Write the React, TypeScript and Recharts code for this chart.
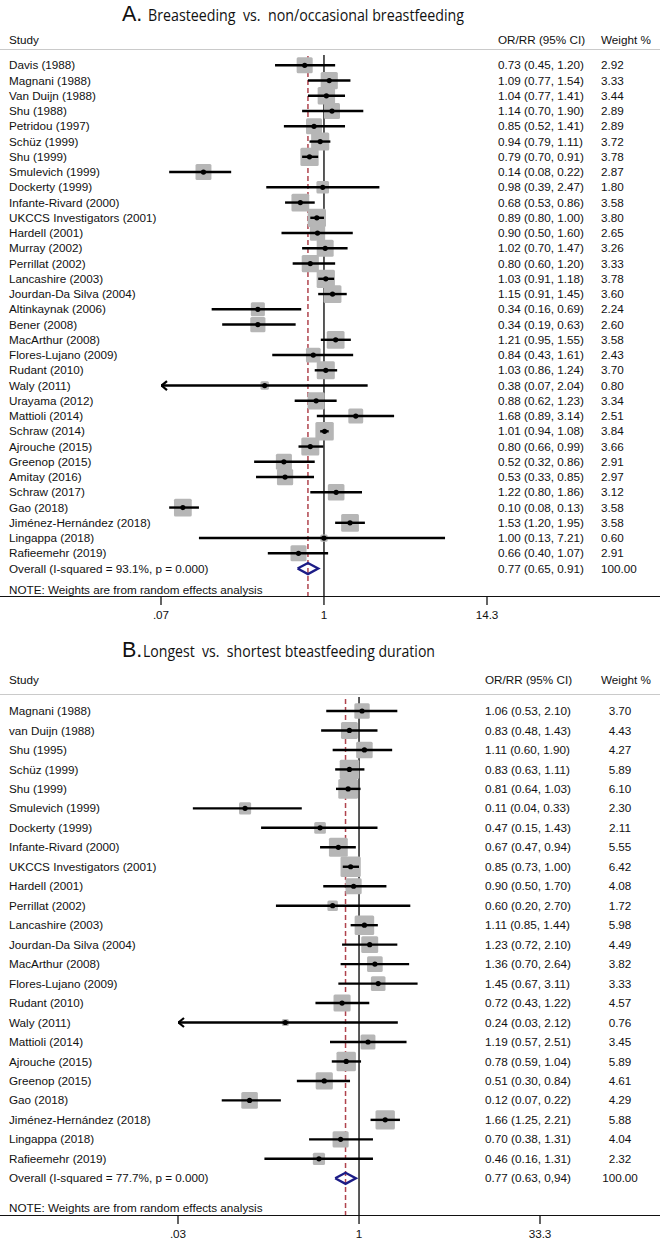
import { ComposedChart, ErrorBar, ReferenceLine, Scatter, XAxis, YAxis } from "recharts";

const FONT = '"Liberation Sans", Arial, Helvetica, sans-serif';
const TITLE_FONT = '"Open Sans", "Noto Sans", sans-serif';
const LETTER_FONT = '"Liberation Sans Narrow", "Liberation Sans", Arial, sans-serif';
const GREY = "#b6b6b6";
const NAVY = "#1c1c86";
const RED = "#b0434d";

// ---- Panel A: breastfeeding vs non/occasional breastfeeding
const studiesA = [
  "Davis (1988)", "Magnani (1988)", "Van Duijn (1988)", "Shu (1988)", "Petridou (1997)", "Schüz (1999)",
  "Shu (1999)", "Smulevich (1999)", "Dockerty (1999)", "Infante-Rivard (2000)", "UKCCS Investigators (2001)",
  "Hardell (2001)", "Murray (2002)", "Perrillat (2002)", "Lancashire (2003)", "Jourdan-Da Silva (2004)",
  "Altinkaynak (2006)", "Bener (2008)", "MacArthur (2008)", "Flores-Lujano (2009)", "Rudant (2010)",
  "Waly (2011)", "Urayama (2012)", "Mattioli (2014)", "Schraw (2014)", "Ajrouche (2015)", "Greenop (2015)",
  "Amitay (2016)", "Schraw (2017)", "Gao (2018)", "Jiménez-Hernández (2018)", "Lingappa (2018)", "Rafieemehr (2019)",
];
const orA = [0.73, 1.09, 1.04, 1.14, 0.85, 0.94, 0.79, 0.14, 0.98, 0.68, 0.89, 0.9, 1.02, 0.8, 1.03, 1.15, 0.34, 0.34, 1.21, 0.84, 1.03, 0.38, 0.88, 1.68, 1.01, 0.8, 0.52, 0.53, 1.22, 0.1, 1.53, 1.0, 0.66];
const loA = [0.45, 0.77, 0.77, 0.7, 0.52, 0.79, 0.7, 0.08, 0.39, 0.53, 0.8, 0.5, 0.7, 0.6, 0.91, 0.91, 0.16, 0.19, 0.95, 0.43, 0.86, 0.07, 0.62, 0.89, 0.94, 0.66, 0.32, 0.33, 0.8, 0.08, 1.2, 0.13, 0.4];
const hiA = [1.2, 1.54, 1.41, 1.9, 1.41, 1.11, 0.91, 0.22, 2.47, 0.86, 1.0, 1.6, 1.47, 1.2, 1.18, 1.45, 0.69, 0.63, 1.55, 1.61, 1.24, 2.04, 1.23, 3.14, 1.08, 0.99, 0.86, 0.85, 1.86, 0.13, 1.95, 7.21, 1.07];
const weightA = [2.92, 3.33, 3.44, 2.89, 2.89, 3.72, 3.78, 2.87, 1.8, 3.58, 3.8, 2.65, 3.26, 3.33, 3.78, 3.6, 2.24, 2.6, 3.58, 2.43, 3.7, 0.8, 3.34, 2.51, 3.84, 3.66, 2.91, 2.97, 3.12, 3.58, 3.58, 0.6, 2.91];
const overallA = { label: "Overall (I-squared = 93.1%, p = 0.000)", or: 0.77, lo: 0.65, hi: 0.91, ciText: "0.77 (0.65, 0.91)", weight: "100.00" };
const ticksA = [0.07, 1, 14.3];
const tickLabelsA = [".07", "1", "14.3"];

// ---- Panel B: longest vs shortest breastfeeding duration
const studiesB = [
  "Magnani (1988)", "van Duijn (1988)", "Shu (1995)", "Schüz (1999)", "Shu (1999)", "Smulevich (1999)",
  "Dockerty (1999)", "Infante-Rivard (2000)", "UKCCS Investigators (2001)", "Hardell (2001)", "Perrillat (2002)",
  "Lancashire (2003)", "Jourdan-Da Silva (2004)", "MacArthur (2008)", "Flores-Lujano (2009)", "Rudant (2010)",
  "Waly (2011)", "Mattioli (2014)", "Ajrouche (2015)", "Greenop (2015)", "Gao (2018)", "Jiménez-Hernández (2018)",
  "Lingappa (2018)", "Rafieemehr (2019)",
];
const orB = [1.06, 0.83, 1.11, 0.83, 0.81, 0.11, 0.47, 0.67, 0.85, 0.9, 0.6, 1.11, 1.23, 1.36, 1.45, 0.72, 0.24, 1.19, 0.78, 0.51, 0.12, 1.66, 0.7, 0.46];
const loB = [0.53, 0.48, 0.6, 0.63, 0.64, 0.04, 0.15, 0.47, 0.73, 0.5, 0.2, 0.85, 0.72, 0.7, 0.67, 0.43, 0.03, 0.57, 0.59, 0.3, 0.07, 1.25, 0.38, 0.16];
const hiB = [2.1, 1.43, 1.9, 1.11, 1.03, 0.33, 1.43, 0.94, 1.0, 1.7, 2.7, 1.44, 2.1, 2.64, 3.11, 1.22, 2.12, 2.51, 1.04, 0.84, 0.22, 2.21, 1.31, 1.31];
const weightB = [3.7, 4.43, 4.27, 5.89, 6.1, 2.3, 2.11, 5.55, 6.42, 4.08, 1.72, 5.98, 4.49, 3.82, 3.33, 4.57, 0.76, 3.45, 5.89, 4.61, 4.29, 5.88, 4.04, 2.32];
const overallB = { label: "Overall (I-squared = 77.7%, p = 0.000)", or: 0.77, lo: 0.63, hi: 0.94, ciText: "0.77 (0.63, 0,94)", weight: "100.00" };
const ticksB = [0.03, 1, 33.3];
const tickLabelsB = [".03", "1", "33.3"];

type Overall = { label: string; or: number; lo: number; hi: number; ciText: string; weight: string };
type PanelSpec = {
  letter: string; title: string;
  studies: string[]; or: number[]; lo: number[]; hi: number[]; weight: number[]; overall: Overall;
  ticks: number[]; tickLabels: string[];
  titleY: number; letterX: number; titleX: number; titleW: number;
  headerY: number; lineY: number; plotTop: number; plotBottom: number; row0: number; rowStep: number; noteY: number;
  xLeft: number; xRight: number; orX: number; wX: number; wAnchor: "start" | "middle"; headWX: number; squareK: number;
};

const panelA: PanelSpec = {
  letter: "A.", title: "Breasteeding  vs.  non/occasional breastfeeding",
  studies: studiesA, or: orA, lo: loA, hi: hiA, weight: weightA, overall: overallA, ticks: ticksA, tickLabels: tickLabelsA,
  titleY: 20.5, letterX: 122, titleX: 148, titleW: 316,
  headerY: 43.5, lineY: 50, plotTop: 55, plotBottom: 597, row0: 65.3, rowStep: 15.25, noteY: 590,
  xLeft: 161, xRight: 487, orX: 498, wX: 601, wAnchor: "start", headWX: 601, squareK: 9.4,
};

const panelB: PanelSpec = {
  letter: "B.", title: "Longest  vs.  shortest bteastfeeding duration",
  studies: studiesB, or: orB, lo: loB, hi: hiB, weight: weightB, overall: overallB, ticks: ticksB, tickLabels: tickLabelsB,
  titleY: 657, letterX: 122, titleX: 143, titleW: 292,
  headerY: 684, lineY: 695, plotTop: 697, plotBottom: 1216, row0: 711, rowStep: 19.47, noteY: 1208,
  xLeft: 178, xRight: 540, orX: 485, wX: 620, wAnchor: "middle", headWX: 601, squareK: 8,
};

const fmt = (v: number) => v.toFixed(2);

function Forest({ p }: { p: PanelSpec }) {
  const n = p.studies.length;
  const dMin = p.ticks[0];
  const dMax = p.ticks[p.ticks.length - 1];
  const rows = p.studies.map((s, i) => ({ x: p.or[i], y: i, w: p.weight[i], err: [p.or[i] - p.lo[i], p.hi[i] - p.or[i]] }));
  const arrows = rows.filter((r) => p.lo[r.y] <= dMin).map((r) => ({ x: dMin, y: r.y }));
  const ov = p.overall;
  const h = 5.5 / p.rowStep;
  const diamond = [
    { x: ov.lo, y: n }, { x: ov.or, y: n - h }, { x: ov.hi, y: n }, { x: ov.or, y: n + h }, { x: ov.lo, y: n },
  ];
  const yDomain = [(p.plotTop - p.row0) / p.rowStep, (p.plotBottom - p.row0) / p.rowStep];
  const noteRow = (p.noteY - p.row0) / p.rowStep;
  const yTicks = [...rows.map((r) => r.y), n, noteRow];
  const axisH = 25;

  const rowTick = (props: any) => {
    const v = props.payload.value;
    const y = props.y;
    const t = { fontFamily: FONT, fontSize: 11.7, fill: "#111" };
    if (v === noteRow) {
      return <text x={9} y={y} dy="0.35em" {...t}>NOTE: Weights are from random effects analysis</text>;
    }
    const isOv = v === n;
    const label = isOv ? ov.label : p.studies[v];
    const ci = isOv ? ov.ciText : `${fmt(p.or[v])} (${fmt(p.lo[v])}, ${fmt(p.hi[v])})`;
    const wt = isOv ? ov.weight : fmt(p.weight[v]);
    return (
      <g>
        <text x={9} y={y} dy="0.35em" {...t}>{label}</text>
        <text x={p.orX} y={y} dy="0.35em" {...t}>{ci}</text>
        <text x={p.wX} y={y} dy="0.35em" textAnchor={p.wAnchor} {...t}>{wt}</text>
      </g>
    );
  };

  const head = { fontFamily: FONT, fontSize: 11.7, fill: "#111" };
  const titleTop = Math.max(0, p.titleY - 26);

  return (
    <>
      <svg width={660} height={p.lineY - titleTop} style={{ position: "absolute", left: 0, top: titleTop, overflow: "visible" }}>
        <g transform={`translate(0, ${-titleTop})`}>
          <text x={p.letterX} y={p.titleY} fontFamily={LETTER_FONT} fontSize={21.5} fill="#111">{p.letter}</text>
          <text x={p.titleX} y={p.titleY} fontFamily={TITLE_FONT} fontSize={16.3} fill="#111" textLength={p.titleW}
            lengthAdjust="spacingAndGlyphs" style={{ whiteSpace: "pre" }}>{p.title}</text>
          <text x={9} y={p.headerY} {...head}>Study</text>
          <text x={p.orX} y={p.headerY} {...head}>OR/RR (95% CI)</text>
          <text x={p.headWX} y={p.headerY} {...head}>Weight %</text>
        </g>
      </svg>
      <div style={{ position: "absolute", left: 0, top: p.lineY - 0.75, width: 660, borderTop: "1.5px solid #cacaca" }} />
      <div style={{ position: "absolute", left: 0, top: p.plotTop }}>
        <ComposedChart width={660} height={p.plotBottom - p.plotTop + axisH}
          margin={{ top: 0, right: 660 - p.xRight, bottom: 0, left: 0 }}>
          <XAxis dataKey="x" type="number" scale="log" domain={[dMin, dMax]} allowDataOverflow ticks={p.ticks}
            tickFormatter={(v: number) => p.tickLabels[p.ticks.indexOf(v)] ?? String(v)}
            axisLine={false} tickLine={{ stroke: "#111", strokeWidth: 1.3 }} tickSize={8} tickMargin={6} height={axisH}
            tick={{ fontFamily: FONT, fontSize: 11.7, fill: "#111" }} interval={0} />
          <YAxis dataKey="y" type="number" reversed domain={yDomain} allowDataOverflow ticks={yTicks} interval={0}
            axisLine={false} tickLine={false} width={p.xLeft} tick={rowTick} />
          <ReferenceLine x={1} stroke="#222" strokeWidth={1.5} zIndex={100} />
          <ReferenceLine x={ov.or} stroke={RED} strokeWidth={1.5} strokeDasharray="5 3" zIndex={100} />
          <Scatter data={rows} isAnimationActive={false} zIndex={600}
            shape={(s: any) => {
              const side = p.squareK * Math.sqrt(s.payload.w);
              return <rect x={s.cx - side / 2} y={s.cy - side / 2} width={side} height={side} rx={1.5} fill={GREY} />;
            }} />
          <Scatter data={rows} isAnimationActive={false} zIndex={700}
            shape={(s: any) => <circle cx={s.cx} cy={s.cy} r={2.6} fill="#000" />}>
            <ErrorBar dataKey="err" direction="x" width={0} stroke="#000" strokeWidth={2.4} zIndex={650} />
          </Scatter>
          <Scatter data={arrows} isAnimationActive={false} zIndex={700}
            shape={(s: any) => (
              <path d={`M${s.cx + 6},${s.cy - 4.5} L${s.cx + 0.5},${s.cy} L${s.cx + 6},${s.cy + 4.5}`}
                fill="none" stroke="#000" strokeWidth={2.2} />
            )} />
          <Scatter data={diamond} isAnimationActive={false} zIndex={700} shape={() => <g />}
            line={{ stroke: NAVY, strokeWidth: 2.4, strokeLinejoin: "miter" }} />
        </ComposedChart>
      </div>
      <div style={{ position: "absolute", left: 0, top: p.plotBottom - 0.65, width: 660, borderTop: "1.3px solid #111" }} />
    </>
  );
}

export default function App() {
  return (
    <div style={{ position: "absolute", left: 0, top: 0, width: 660, height: 1241, background: "#fff", overflow: "hidden" }}>
      <Forest p={panelA} />
      <Forest p={panelB} />
    </div>
  );
}
